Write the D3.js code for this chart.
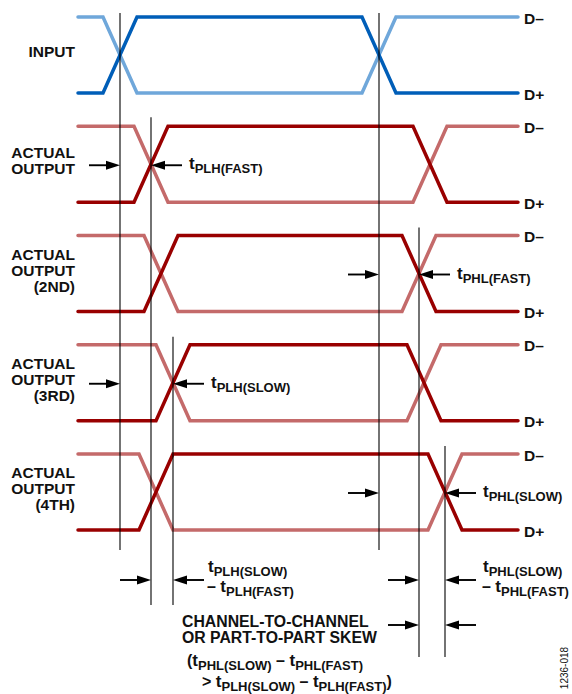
<!DOCTYPE html>
<html lang="en">
<head>
<meta charset="UTF-8">
<title>Propagation Delay Skew</title>
<script src="https://d3js.org/d3.v7.min.js"></script>
<style>
  body { margin: 0; background: #fff; }
  svg text {
    font-family: "Liberation Sans", Arial, Helvetica, sans-serif;
    font-weight: bold;
    fill: #111;
    white-space: pre;
  }
</style>
</head>
<body>
<svg id="chart" width="572" height="694"></svg>
<script>
// timing rows, top to bottom
const rowKeys = ["in", "out1", "out2", "out3", "out4"];
const rowLabels = [
  ["INPUT"],
  ["ACTUAL", "OUTPUT"],
  ["ACTUAL", "OUTPUT", "(2ND)"],
  ["ACTUAL", "OUTPUT", "(3RD)"],
  ["ACTUAL", "OUTPUT", "(4TH)"]
];
// time (arbitrary units) where each D+ edge starts: rise, then fall
const riseStart = [25, 56, 66, 78, 61];
const fallStart = [284, 335, 324, 329, 350];
const edgeTime = 34;
const timeSpan = [0, 440];
const levelNames = ["D–", "D+"];

const svg = d3.select("#chart");

const x = d3.scaleLinear().domain(timeSpan).range([78, 518]);
const rowY = d3.scalePoint().domain(rowKeys).range([17, 454]);
const lvl = d3.scaleLinear().domain([0, 1]).range([76, 0]);
const yOf = (k, v) => rowY(k) + lvl(v);

const colors = {
  in:  { dark: "#005eb8", light: "#6fa7da" },
  out: { dark: "#990000", light: "#c46a6a" }
};

// waveform points for D+ (dark); D– (light) is the complement
const wave = i => [
  [timeSpan[0], 0], [riseStart[i], 0], [riseStart[i] + edgeTime, 1],
  [fallStart[i], 1], [fallStart[i] + edgeTime, 0], [timeSpan[1], 0]
];

const waves = svg.append("g");
rowKeys.forEach((k, i) => {
  const c = i === 0 ? colors.in : colors.out;
  const line = d3.line().x(d => x(d[0])).y(d => yOf(k, d[1]));
  const pts = wave(i);
  [[pts.map(d => [d[0], 1 - d[1]]), c.light], [pts, c.dark]].forEach(([p, col]) => {
    waves.append("path")
      .attr("d", line(p))
      .attr("fill", "none").attr("stroke", col)
      .attr("stroke-width", 3.5).attr("stroke-linecap", "round");
  });

  // row label, right aligned, centred on the row
  const lab = svg.append("text").attr("text-anchor", "end").attr("font-size", 15.5);
  const n = rowLabels[i].length;
  const mid = yOf(k, 0.5);
  rowLabels[i].forEach((s, j) => {
    lab.append("tspan").attr("x", 75)
      .attr("y", mid + (j - (n - 1) / 2) * 16 + 2).text(s);
  });

  // level names on the right
  levelNames.forEach((s, j) => {
    svg.append("text").attr("x", 524).attr("y", yOf(k, 1 - j) + 6.5)
      .attr("font-size", 15.5).text(s);
  });
});

// crossing times
const crossRise = riseStart.map(t => t + edgeTime / 2);
const crossFall = fallStart.map(t => t + edgeTime / 2);
const outIdx = [1, 2, 3, 4];
const plhFast = d3.least(outIdx, i => crossRise[i]);
const plhSlow = d3.greatest(outIdx, i => crossRise[i]);
const phlFast = d3.least(outIdx, i => crossFall[i]);
const phlSlow = d3.greatest(outIdx, i => crossFall[i]);

const bottom = yOf("out4", 0);
const rowTop = i => rowY(rowKeys[i]);

const markers = [
  { t: crossRise[0], y1: rowTop(0) - 4, y2: bottom + 20 },
  { t: crossFall[0], y1: rowTop(0) - 4, y2: bottom + 20 },
  { t: crossRise[plhFast], y1: rowTop(plhFast) - 9, y2: bottom + 75 },
  { t: crossRise[plhSlow], y1: rowTop(plhSlow) - 8, y2: bottom + 75 },
  { t: crossFall[phlFast], y1: rowTop(phlFast) - 8, y2: bottom + 127 },
  { t: crossFall[phlSlow], y1: rowTop(phlSlow) - 8, y2: bottom + 127 }
];
svg.append("g").selectAll("line").data(markers).join("line")
  .attr("x1", d => x(d.t)).attr("x2", d => x(d.t))
  .attr("y1", d => d.y1).attr("y2", d => d.y2)
  .attr("stroke", "#000").attr("stroke-width", 1.1);

// arrow with its tip at (tx, y); dir 1 points right, -1 points left
function arrow(tx, y, dir) {
  const len = 31, head = 14, hw = 4.5;
  svg.append("line")
    .attr("x1", tx - dir * len).attr("x2", tx - dir * (head - 1))
    .attr("y1", y).attr("y2", y)
    .attr("stroke", "#000").attr("stroke-width", 1.9);
  svg.append("path")
    .attr("d", `M${tx},${y} L${tx - dir * head},${y - hw} L${tx - dir * head},${y + hw} Z`)
    .attr("fill", "#000");
}

// text with subscripts: parts are [string, isSub, size]
function rich(px, py, parts) {
  const t = svg.append("text").attr("x", px).attr("y", py);
  let shift = 0;
  parts.forEach(([s, sub, size]) => {
    const want = sub ? 4 : 0;
    t.append("tspan").attr("dy", want - shift)
      .attr("font-size", size || (sub ? 13 : 17)).text(s);
    shift = want;
  });
  return t;
}
const tt = sub => [["t"], [sub, true]];

// per-row delay annotations
const pairs = [
  { row: plhFast, from: crossRise[0], to: crossRise[plhFast], label: "PLH(FAST)" },
  { row: phlFast, from: crossFall[0], to: crossFall[phlFast], label: "PHL(FAST)" },
  { row: plhSlow, from: crossRise[0], to: crossRise[plhSlow], label: "PLH(SLOW)" },
  { row: phlSlow, from: crossFall[0], to: crossFall[phlSlow], label: "PHL(SLOW)" }
];
pairs.forEach(p => {
  const ay = yOf(rowKeys[p.row], 0.5) + 1;
  arrow(x(p.from), ay, 1);
  arrow(x(p.to), ay, -1);
  rich(x(p.to) + 38, ay + 4, tt(p.label));
});

// skew annotations under the diagram
const skewY = bottom + 50;
arrow(x(crossRise[plhFast]), skewY, 1);
arrow(x(crossRise[plhSlow]), skewY, -1);
rich(x(crossRise[plhSlow]) + 35, skewY - 8, tt("PLH(SLOW)"));
rich(x(crossRise[plhSlow]) + 34, skewY + 12, [["– ", false, 16], ...tt("PLH(FAST)")]);

arrow(x(crossFall[phlFast]), skewY, 1);
arrow(x(crossFall[phlSlow]), skewY, -1);
rich(x(crossFall[phlSlow]) + 38, skewY - 8, tt("PHL(SLOW)"));
rich(x(crossFall[phlSlow]) + 37, skewY + 12, [["– ", false, 16], ...tt("PHL(FAST)")]);

const chanY = bottom + 95;
arrow(x(crossFall[phlFast]), chanY, 1);
arrow(x(crossFall[phlSlow]), chanY, -1);
svg.append("text").attr("x", 182).attr("y", chanY + 2).attr("font-size", 15.8).text("CHANNEL-TO-CHANNEL");
svg.append("text").attr("x", 182).attr("y", chanY + 18).attr("font-size", 15.8).text("OR PART-TO-PART SKEW");

rich(187, chanY + 41, [["(", false, 16], ...tt("PHL(SLOW)"), [" – ", false, 16], ...tt("PHL(FAST)")]);
rich(202, chanY + 62, [["> ", false, 16], ...tt("PLH(SLOW)"), [" – ", false, 16], ...tt("PLH(FAST)"), [")", false, 16]]);

svg.append("text")
  .attr("transform", "translate(568,668) rotate(-90)")
  .attr("text-anchor", "middle")
  .attr("font-size", 10)
  .style("font-weight", "normal")
  .text("1236-018");
</script>
</body>
</html>
